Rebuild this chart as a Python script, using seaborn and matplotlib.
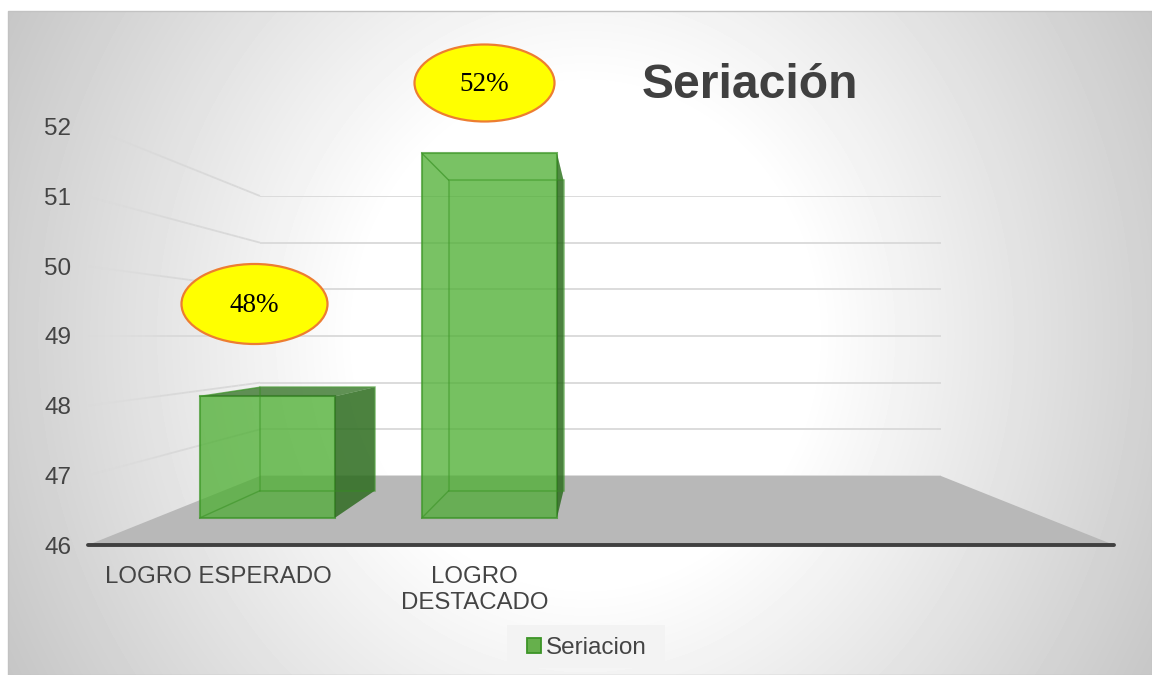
# Seriación - barras en falsa perspectiva 3D (estilo Excel)
import numpy as np
import pandas as pd
import seaborn as sns
import matplotlib.pyplot as plt
from matplotlib.collections import LineCollection
from matplotlib.patches import Ellipse, Patch, Polygon, Rectangle
from matplotlib.transforms import ScaledTranslation

categorias = ["LOGRO ESPERADO", "LOGRO\nDESTACADO"]
valores = [48, 52]
etiquetas = ["48%", "52%"]
serie = "Seriacion"
titulo = "Seriación"
ticks_y = [46, 47, 48, 49, 50, 51, 52]

W, H = 1152, 675
VERDE = "#4fb034"
BORDE = "#3c9427"
OSCURO = "#2c6a1e"
REJILLA = "#d9d9d9"
TEXTO = "#444444"

sns.set_theme(style="white")
plt.rcParams["font.family"] = ["Liberation Sans", "DejaVu Sans"]

fig = plt.figure(figsize=(W / 100, H / 100), dpi=100, facecolor="white")


def plano(x0, x1, y_base, por_unidad, z):
    # un plano vertical de la perspectiva: 4 categorías de ancho, 46-52 de alto
    alto = por_unidad * 6
    ax = fig.add_axes([x0 / W, 1 - y_base / H, (x1 - x0) / W, alto / H], zorder=z)
    ax.patch.set_alpha(0)
    ax.set_xlim(-0.5, 3.5)
    ax.set_ylim(46, 52)
    return ax


def a_px(ax, x, y):
    d = ax.transData.transform((x, y))
    return d[0], H - d[1]


# fondo con degradado
ax_bg = fig.add_axes([0, 0, 1, 1], zorder=0)
ax_bg.set_xlim(0, W)
ax_bg.set_ylim(H, 0)
ax_bg.axis("off")
xx, yy = np.meshgrid(np.arange(8, W), np.arange(11, H))
d = np.sqrt(((xx - 585) / 570) ** 2 + ((yy - 335) / 620) ** 2)
gris = 1 - 0.18 * np.clip((d - 0.4) / 0.6, 0, 1.4)
ax_bg.imshow(gris, cmap="gray", vmin=0, vmax=1, extent=(8, W, H, 11), aspect="auto", interpolation="bilinear")
ax_bg.set_xlim(0, W)
ax_bg.set_ylim(H, 0)
ax_bg.add_patch(Rectangle((8, 11), W - 8, H - 11, fill=False, ec="#c2c2c2", lw=1))
# caja de la leyenda
ax_bg.add_patch(Rectangle((507, 625), 158, 43, fc="#f3f3f3", ec="none", zorder=2))

# planos
ax_eje = plano(88, 1114, 545, 69.67, 3)
ax_pared = plano(260, 941, 476, 46.67, 1)
ax_fondo = plano(223, 978, 490.7, 51.75, 2)
ax_frente = plano(156, 1045, 518, 60.8, 5)

# suelo gris
ax_bg.add_patch(Polygon([a_px(ax_eje, -0.5, 46), a_px(ax_pared, -0.5, 46),
                         a_px(ax_pared, 3.5, 46), a_px(ax_eje, 3.5, 46)],
                        closed=True, fc="#b8b8b8", ec="none"))

# rejilla de la pared y de la pared lateral (se desvanece hacia la izquierda)
ax_pared.set_yticks(ticks_y)
ax_pared.set_xticks([])
ax_pared.tick_params(left=False, labelleft=False)
ax_pared.grid(axis="y", color=REJILLA, lw=1.3)
sns.despine(ax=ax_pared, left=True, bottom=True)
for t in ticks_y[1:]:
    p0 = np.array(a_px(ax_eje, -0.5, t))
    p1 = np.array(a_px(ax_pared, -0.5, t))
    s = np.linspace(0, 1, 25)
    puntos = p0 + (p1 - p0) * s[:, None]
    tramos = np.stack([puntos[:-1], puntos[1:]], axis=1)
    alfas = np.clip(s[:-1] / 0.45, 0.05, 1)
    colores = [(0.85, 0.85, 0.85, a) for a in alfas]
    ax_bg.add_collection(LineCollection(tramos, colors=colores, linewidths=1.3, zorder=3))

# eje principal
ax_eje.set_xticks([0, 1])
ax_eje.set_xticklabels(categorias, fontsize=17.25, color=TEXTO, linespacing=1.25)
ax_eje.set_yticks(ticks_y)
ax_eje.set_yticklabels([str(t) for t in ticks_y], fontsize=17.5, color=TEXTO)
ax_eje.tick_params(axis="x", length=0, pad=15)
ax_eje.tick_params(axis="y", length=0, pad=12)
for lab in ax_eje.get_xticklabels():
    lab.set_transform(lab.get_transform() + ScaledTranslation(2 / 100, 0, fig.dpi_scale_trans))
sns.despine(ax=ax_eje, left=True)
ax_eje.spines["bottom"].set_color("#404040")
ax_eje.spines["bottom"].set_linewidth(2.8)
ax_eje.spines["bottom"].set_capstyle("round")

# barras: cara trasera y cara frontal
datos = pd.DataFrame({"categoria": categorias, "valor": valores})
for ax_b, alfa in ((ax_fondo, 0.2), (ax_frente, 0.72)):
    sns.barplot(data=datos, x="categoria", y="valor", ax=ax_b, width=0.608,
                color=VERDE, saturation=1, alpha=alfa, edgecolor=BORDE, linewidth=1.5)
    ax_b.set_xlim(-0.5, 3.5)
    ax_b.set_ylim(46, 52)
    ax_b.axis("off")
    for b in ax_b.patches:
        b.set_height(b.get_height() + b.get_y() - 46)
        b.set_y(46)
        b.set_clip_on(False)

# caras que unen las dos (por delante, para que se vean las aristas interiores)
ax_caras = fig.add_axes([0, 0, 1, 1], zorder=5.5)
ax_caras.set_xlim(0, W)
ax_caras.set_ylim(H, 0)
ax_caras.axis("off")
for bf, bd in zip(ax_frente.patches, ax_fondo.patches):
    def esquinas(ax, b):
        x0, x1 = b.get_x(), b.get_x() + b.get_width()
        return (a_px(ax, x0, 46), a_px(ax, x1, 46),
                a_px(ax, x1, b.get_height() + 46), a_px(ax, x0, b.get_height() + 46))
    f = esquinas(ax_frente, bf)
    t = esquinas(ax_fondo, bd)
    # lateral izquierda, suelo, lateral derecha, tapa
    ax_caras.add_patch(Polygon([f[0], t[0], t[3], f[3]], fc=VERDE, alpha=0.14, ec="none"))
    ax_caras.add_patch(Polygon([f[0], f[1], t[1], t[0]], fc=OSCURO, alpha=0.05, ec="none"))
    lado = [f[1], t[1], t[2], f[2]]
    ax_caras.add_patch(Polygon(lado, fc=OSCURO, alpha=0.82, ec="none"))
    if t[3][1] < f[3][1]:
        # vista desde arriba: tapa oscura
        ax_caras.add_patch(Polygon([f[3], f[2], t[2], t[3]], fc=OSCURO, alpha=0.7, ec="none"))
    else:
        ax_caras.add_patch(Polygon([f[3], f[2], t[2], t[3]], fc=VERDE, alpha=0.14, ec="none"))
    ax_caras.plot([f[0][0], t[0][0]], [f[0][1], t[0][1]], color=BORDE, lw=1, alpha=0.6)
    ax_caras.plot([f[3][0], t[3][0]], [f[3][1], t[3][1]], color=BORDE, lw=1, alpha=0.7)
    ax_caras.plot([t[0][0], t[1][0], t[2][0], t[3][0], t[0][0]],
                  [t[0][1], t[1][1], t[2][1], t[3][1], t[0][1]], color=BORDE, lw=1.1, alpha=0.45)

# leyenda
ax_frente.legend(handles=[Patch(fc="#66b04c", ec=BORDE, lw=1.3, label=serie)],
                 loc="center", bbox_to_anchor=(587 / W, 1 - 648 / H), bbox_transform=fig.transFigure,
                 frameon=False, prop={"size": 17.5}, labelcolor=TEXTO,
                 handlelength=0.55, handleheight=0.6, handletextpad=0.2, borderaxespad=0)

# globos y título
ax_sup = fig.add_axes([0, 0, 1, 1], zorder=6)
ax_sup.set_xlim(0, W)
ax_sup.set_ylim(H, 0)
ax_sup.axis("off")
for (cx, cy, an, al), txt in zip([(254.5, 304, 146, 80), (484.5, 83, 140, 77)], etiquetas):
    ax_sup.add_patch(Ellipse((cx, cy), an, al, fc="#ffff00", ec="#ed7d31", lw=1.6))
    ax_sup.text(cx, cy + 1.5, txt, ha="center", va="center", fontsize=19.5, color="black",
                family=["Liberation Serif", "DejaVu Serif"])
ax_sup.text(750, 86, titulo, ha="center", va="center", fontsize=34.7, fontweight="bold", color="#404040")

fig.savefig("out.png", dpi=100)
